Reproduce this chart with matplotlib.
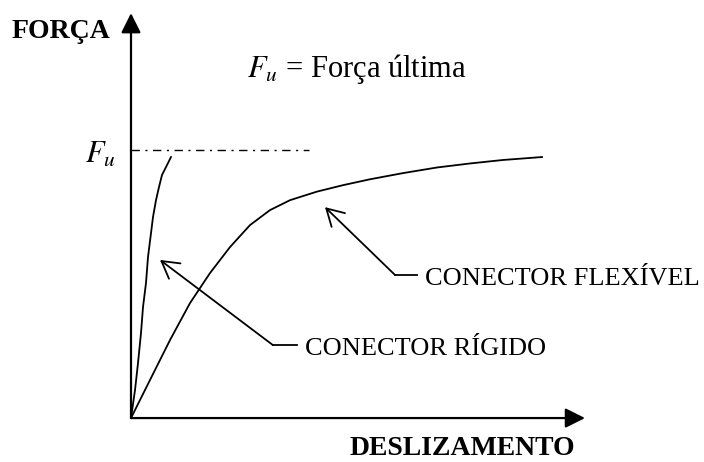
import matplotlib
matplotlib.use('Agg')
import matplotlib.pyplot as plt

plt.rcParams['font.family'] = ['Liberation Serif', 'DejaVu Serif']
plt.rcParams['mathtext.fontset'] = 'stix'

# ------------------------------------------------------------------
# Curve data (displacement in arbitrary units, force as fraction of Fu)
# ------------------------------------------------------------------
rigid_slip  = [0.0, 0.08, 0.14, 0.20, 0.24, 0.30, 0.34, 0.40, 0.44,
               0.50, 0.56, 0.62, 0.72, 0.80]
rigid_force = [0.0, 0.104, 0.205, 0.317, 0.414, 0.504, 0.601, 0.690, 0.750,
               0.813, 0.862, 0.907, 0.944, 0.974]

flex_slip  = [0.0, 0.38, 0.78, 1.18, 1.58, 1.98, 2.38, 2.78, 3.18, 3.72,
              4.24, 4.78, 5.44, 6.12, 6.78, 7.44, 8.22]
flex_force = [0.0, 0.142, 0.291, 0.429, 0.541, 0.638, 0.720, 0.776, 0.813, 0.845,
              0.869, 0.891, 0.914, 0.935, 0.950, 0.963, 0.974]

Fu = 1.0
fu_line_end = 3.56

# axis extents
x_axis_end = 9.08
y_axis_end = 1.511

# labels
rigid_label = 'CONECTOR RÍGIDO'
flex_label  = 'CONECTOR FLEXÍVEL'

fig = plt.figure(figsize=(7.04, 4.62), dpi=100)
ax = fig.add_axes([0, 0, 1, 1])
ax.set_xlim(-2.62, 11.46)
ax.set_ylim(-0.164, 1.560)
ax.axis('off')

# axes with arrowheads
ax.annotate('', xy=(0, y_axis_end), xytext=(0, 0),
            arrowprops=dict(arrowstyle='-|>', color='black', lw=1.6,
                            mutation_scale=30, shrinkA=0, shrinkB=0))
ax.annotate('', xy=(x_axis_end, 0), xytext=(0, 0),
            arrowprops=dict(arrowstyle='-|>', color='black', lw=1.6,
                            mutation_scale=30, shrinkA=0, shrinkB=0))

# ultimate force line
ax.plot([0, fu_line_end], [Fu, Fu], color='black', lw=1.0,
        linestyle=(0, (6, 4, 1.5, 4)))

# curves
ax.plot(rigid_slip, rigid_force, color='black', lw=1.3, solid_joinstyle='round')
ax.plot(flex_slip, flex_force, color='black', lw=1.3, solid_joinstyle='round')

# leader arrows
def leader(tip, elbow, end):
    ax.plot([elbow[0], end[0]], [elbow[1], end[1]], color='black', lw=1.3)
    ax.annotate('', xy=tip, xytext=elbow,
                arrowprops=dict(arrowstyle='->, head_length=0.4, head_width=0.23',
                                color='black', lw=1.3, mutation_scale=30,
                                shrinkA=0, shrinkB=0))

leader((0.58, 0.590), (2.84, 0.272), (3.32, 0.272))
leader((3.88, 0.787), (5.28, 0.534), (5.72, 0.534))

ax.text(3.48, 0.235, rigid_label, fontsize=19, ha='left', va='baseline')
ax.text(5.88, 0.496, flex_label, fontsize=19, ha='left', va='baseline')

# axis titles
ax.text(-2.38, 1.418, 'FORÇA', fontsize=20, fontweight='bold',
        ha='left', va='baseline')
ax.text(4.38, -0.138, 'DESLIZAMENTO', fontsize=20, fontweight='bold',
        ha='left', va='baseline')

# Fu annotations
ax.text(-0.92, 0.951, r'$F_u$', fontsize=22, ha='left', va='baseline')
ax.text(2.32, 1.272, r'$F_u$ = Força última', fontsize=22, ha='left', va='baseline')

fig.savefig('out.png', dpi=100)
